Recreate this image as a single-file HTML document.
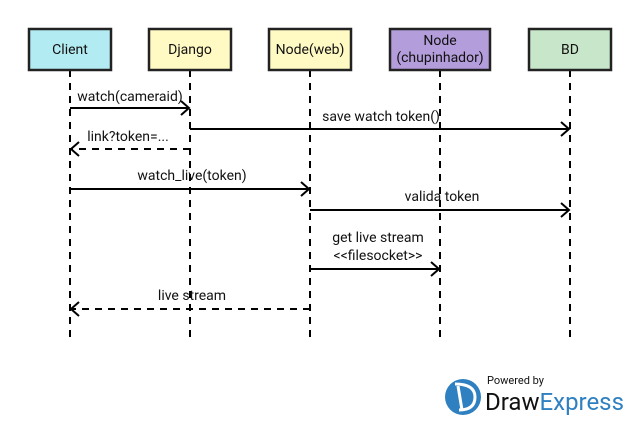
<!DOCTYPE html>
<html><head><style>body{margin:0;background:#fff}</style></head><body>
<svg width="640" height="420" xmlns="http://www.w3.org/2000/svg" font-family="Roboto, 'Liberation Sans', sans-serif" font-size="14">
<g stroke="#000" stroke-width="2" stroke-dasharray="7,6" fill="none">
<line x1="70" y1="70" x2="70" y2="342"/>
<line x1="190" y1="70" x2="190" y2="342"/>
<line x1="310" y1="70" x2="310" y2="342"/>
<line x1="440" y1="70" x2="440" y2="342"/>
<line x1="570" y1="70" x2="570" y2="342"/>
</g>
<g stroke="#222" stroke-width="2.5">
<rect x="29" y="29" width="82" height="41" fill="#b3ebf2"/>
<rect x="149" y="29" width="82" height="41" fill="#fff9c4"/>
<rect x="269" y="29" width="82" height="41" fill="#fff9c4"/>
<rect x="390" y="29" width="100" height="41" fill="#b39ddb"/>
<rect x="529" y="29" width="82" height="41" fill="#c8e6c9"/>
</g>
<g text-anchor="middle" fill="#111">
<text x="70" y="54">Client</text>
<text x="190" y="54">Django</text>
<text x="310" y="54">Node(web)</text>
<text x="440" y="45">Node</text>
<text x="440" y="62">(chupinhador)</text>
<text x="570" y="54">BD</text>
<text x="130" y="101">watch(cameraid)</text>
<text x="381" y="121">save watch token()</text>
<text x="128" y="141">link?token=...</text>
<text x="192" y="180">watch_live(token)</text>
<text x="442" y="201">valida token</text>
<text x="378" y="242">get live stream</text>
<text x="378" y="260">&lt;&lt;filesocket&gt;&gt;</text>
<text x="192" y="300">live stream</text>
</g>
<g stroke="#000" stroke-width="2" fill="none">
<line x1="70" y1="108" x2="188" y2="108"/><polyline points="181,101 189,108 181,115"/>
<line x1="190" y1="129" x2="568" y2="129"/><polyline points="561,122 569,129 561,136"/>
<line x1="190" y1="149" x2="72" y2="149" stroke-dasharray="7,6"/><polyline points="79,142 71,149 79,156"/>
<line x1="70" y1="189" x2="308" y2="189"/><polyline points="301,182 309,189 301,196"/>
<line x1="310" y1="210" x2="568" y2="210"/><polyline points="561,203 569,210 561,217"/>
<line x1="310" y1="269" x2="438" y2="269"/><polyline points="431,262 439,269 431,276"/>
<line x1="310" y1="309" x2="72" y2="309" stroke-dasharray="7,6"/><polyline points="79,302 71,309 79,316"/>
</g>
<circle cx="463" cy="397" r="18" fill="#2f80c0"/>
<path d="M455 384 q20 0 20 13 q0 13 -16 13" stroke="#fff" stroke-width="3" fill="none"/>
<line x1="458" y1="386" x2="462" y2="410" stroke="#fff" stroke-width="3"/>
<text x="487" y="384" font-size="11" fill="#111">Powered by</text>
<text x="485" y="410" font-size="24" fill="#111">Draw<tspan fill="#2f80c0">Express</tspan></text>
</svg>
</body></html>
